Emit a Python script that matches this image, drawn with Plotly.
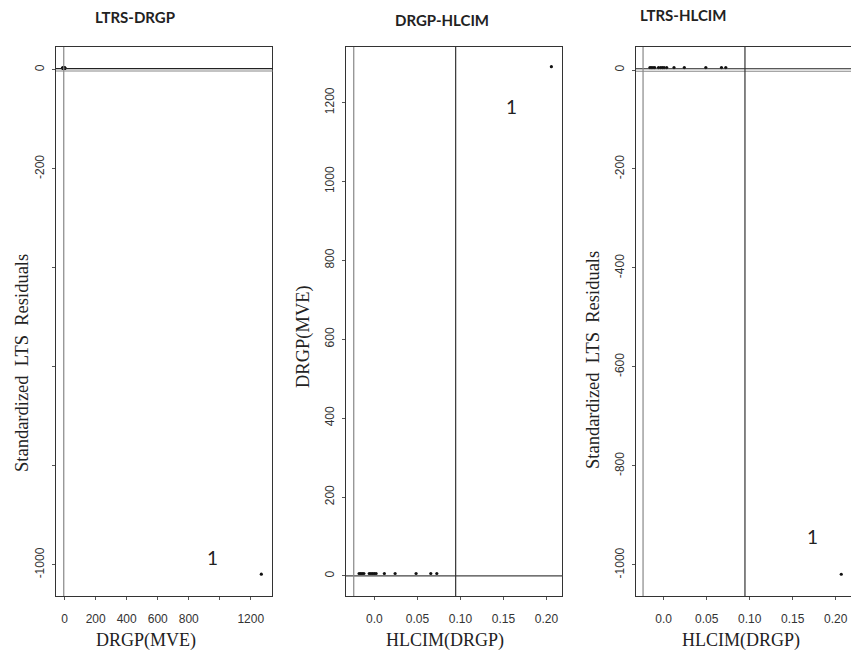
import plotly.graph_objects as go

# --- data -------------------------------------------------------------
# Panel 1: LTS residuals against DRGP(MVE)
drgp_p1 = [-14, -12, -10, -9, -7, -6, -5, -4, -3, -2, -1, 0, 1, 2, 1268]
resid_p1 = [4, 3, 4, 3, 4, 3, 4, 3, 4, 3, 4, 3, 4, 3, -1019]

# Panel 2: DRGP(MVE) against HLCIM(DRGP)
hlcim_p2 = [-0.0178, -0.0160, -0.0142, -0.0122, -0.0060, -0.0040, -0.0020,
            0.0000, 0.0020, 0.0116, 0.0241, 0.0485, 0.0656, 0.0726, 0.2058]
drgp_p2 = [6, 6, 6, 6, 6, 6, 6, 6, 6, 6, 6, 6, 6, 6, 1291]

# Panel 3: LTS residuals against HLCIM(DRGP)
hlcim_p3 = [-0.0160, -0.0145, -0.0125, -0.0105, -0.0060, -0.0035, -0.0015,
            0.0005, 0.0035, 0.0120, 0.0240, 0.0490, 0.0672, 0.0722, 0.2065]
resid_p3 = [5, 5, 5, 5, 5, 5, 5, 5, 5, 5, 5, 5, 5, 5, -1019]

titles = ["LTRS-DRGP", "DRGP-HLCIM", "LTRS-HLCIM"]
x_titles = ["DRGP(MVE)", "HLCIM(DRGP)", "HLCIM(DRGP)"]
NB = "\u00a0\u00a0"
y_titles = ["Standardized" + NB + "LTS" + NB + "Residuals", "DRGP(MVE)",
            "Standardized" + NB + "LTS" + NB + "Residuals"]

x1_ticks = [0, 200, 400, 600, 800, 1000, 1200]
x1_labels = ["0", "200", "400", "600", "800", "", "1200"]
hl_ticks = [0.0, 0.05, 0.10, 0.15, 0.20]
hl_labels = ["0.0", "0.05", "0.10", "0.15", "0.20"]
res_ticks = [0, -200, -400, -600, -800, -1000]
res_labels_p1 = ["0", "-200", "", "", "", "-1000"]
res_labels_p3 = ["0", "-200", "-400", "-600", "-800", "-1000"]
y2_ticks = [0, 200, 400, 600, 800, 1000, 1200]
y2_labels = ["0", "200", "400", "600", "800", "1000", "1200"]

# cutoff lines
res_band = [2.5, -2.5]
drgp_vline = -6
hl_vlines = [-0.024, 0.0945]

W, H = 851, 657
SERIF = "Liberation Serif, Times New Roman, serif"
SANS = "Liberation Sans, Arial, sans-serif"
TITLE_FONT = "Lato, Open Sans, sans-serif"

fig = go.Figure()

# pixel geometry of the three plotting boxes
boxes = [(56, 271.7), (346, 561.7), (636, 851)]
top_px, bot_px = 47, 596
ydom = [(H - bot_px) / H, (H - top_px) / H]

panels = [
    dict(x=drgp_p1, y=resid_p1, xr=[-56, 1335], yr=[-1063, 46],
         xt=x1_ticks, xl=x1_labels, yt=res_ticks, yl=res_labels_p1),
    dict(x=hlcim_p2, y=drgp_p2, xr=[-0.0330, 0.2178], yr=[-51, 1341],
         xt=hl_ticks, xl=hl_labels, yt=y2_ticks, yl=y2_labels),
    dict(x=hlcim_p3, y=resid_p3, xr=[-0.0322, 0.2178], yr=[-1063, 46.5],
         xt=hl_ticks, xl=hl_labels, yt=res_ticks, yl=res_labels_p3),
]

layout = {}
for i, p in enumerate(panels):
    n = "" if i == 0 else str(i + 1)
    xa, ya = "x" + n, "y" + n
    fig.add_trace(go.Scatter(
        x=p["x"], y=p["y"], mode="markers", xaxis=xa, yaxis=ya,
        marker=dict(size=3.2, color="#111111"), showlegend=False,
        hoverinfo="skip"))
    x0, x1 = boxes[i]
    common = dict(showgrid=False, zeroline=False, showline=True, mirror=True,
                  linecolor="#333333", linewidth=1.3, ticks="outside",
                  ticklen=3, tickcolor="#555555", tickwidth=1,
                  tickfont=dict(family=SANS, size=12, color="#333333"))
    layout["xaxis" + n] = dict(
        domain=[x0 / W, min(x1 / W, 1.0)], range=p["xr"], anchor=ya,
        tickvals=p["xt"], ticktext=p["xl"], ticklabelstandoff=8, **common)
    layout["yaxis" + n] = dict(
        domain=ydom, range=p["yr"], anchor=xa, tickangle=-90,
        tickvals=p["yt"], ticktext=p["yl"], ticklabelstandoff=3, **common)

fig.update_layout(**layout)

shapes = []
# horizontal residual band lines (panels 1 and 3)
for xref, yref in [("x", "y"), ("x3", "y3")]:
    for k, yv in enumerate(res_band):
        shapes.append(dict(type="line", xref=xref + " domain", yref=yref,
                           x0=0, x1=1.005, y0=yv, y1=yv,
                           line=dict(color="#222222" if k == 0 else "#888888",
                                     width=1.2)))
# zero line in panel 2
shapes.append(dict(type="line", xref="x2 domain", yref="y2", x0=0, x1=1.005,
                   y0=0, y1=0, line=dict(color="#444444", width=1.1)))
# vertical cutoff lines
shapes.append(dict(type="line", xref="x", yref="y domain", x0=drgp_vline,
                   x1=drgp_vline, y0=0, y1=1,
                   line=dict(color="#888888", width=1.2)))
for xref, yref in [("x2", "y2"), ("x3", "y3")]:
    for k, xv in enumerate(hl_vlines):
        shapes.append(dict(type="line", xref=xref, yref=yref + " domain",
                           x0=xv, x1=xv, y0=0, y1=1,
                           line=dict(color="#888888" if k == 0 else "#333333",
                                     width=1.2)))

annotations = []
# panel titles
for tx, ty, t in [(135, 17, titles[0]), (442, 20, titles[1]), (683, 15, titles[2])]:
    annotations.append(dict(text="<b>" + t + "</b>", x=tx / W, y=1 - ty / H,
                            xref="paper", yref="paper", showarrow=False,
                            xanchor="center", yanchor="middle",
                            font=dict(family=TITLE_FONT, size=15, color="#222222")))
# x-axis titles
for tx, t in [(146, x_titles[0]), (445, x_titles[1]), (741, x_titles[2])]:
    annotations.append(dict(text=t, x=tx / W, y=1 - 640 / H, xref="paper",
                            yref="paper", showarrow=False, xanchor="center",
                            yanchor="middle",
                            font=dict(family=SERIF, size=18, color="#222222")))
# y-axis titles
for tx, ty, t in [(22, 363, y_titles[0]), (303, 337, y_titles[1]),
                  (593, 360, y_titles[2])]:
    annotations.append(dict(text=t, x=tx / W, y=1 - ty / H, xref="paper",
                            yref="paper", showarrow=False, textangle=-90,
                            xanchor="center", yanchor="middle",
                            font=dict(family=SERIF, size=18.5, color="#222222")))
# outlier labels
for tx, ty in [(212, 557), (511, 107), (812, 536)]:
    annotations.append(dict(text="1", x=tx / W, y=1 - ty / H, xref="paper",
                            yref="paper", showarrow=False, xanchor="center",
                            yanchor="middle",
                            font=dict(family=TITLE_FONT, size=19, color="#222222")))

fig.update_layout(
    width=W, height=H, margin=dict(l=0, r=0, t=0, b=0),
    paper_bgcolor="white", plot_bgcolor="white",
    shapes=shapes, annotations=annotations, showlegend=False)

fig.write_html("out.html")
